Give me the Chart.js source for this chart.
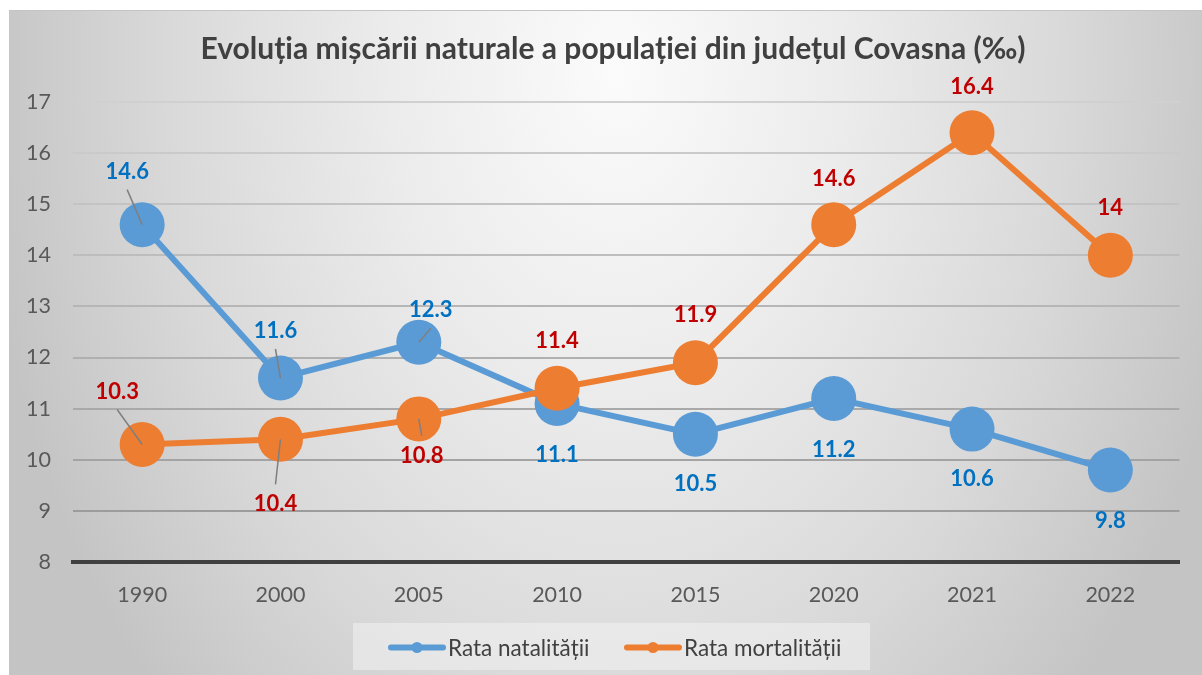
<!DOCTYPE html>
<html>
<head>
<meta charset="utf-8">
<script src="https://cdn.jsdelivr.net/npm/chart.js@4.4.1/dist/chart.umd.min.js"></script>
<style>
  html, body { margin: 0; padding: 0; background: #fff; }
  #wrap {
    position: absolute; left: 9px; top: 10px; width: 1193px; height: 665px;
    border-top: 1px solid #c4c4c4; box-sizing: border-box;
    background: radial-gradient(640px 900px at 607px 60px, #fbfbfb 0%, #ececec 35%, #d9d9d9 70%, #c4c4c4 100%);
  }
  canvas { display: block; }
</style>
</head>
<body>
<div id="wrap"><canvas id="chart" width="1193" height="665"></canvas></div>
<script>
// Data
const years = ['1990', '2000', '2005', '2010', '2015', '2020', '2021', '2022'];
const natalitate = [14.6, 11.6, 12.3, 11.1, 10.5, 11.2, 10.6, 9.8];
const mortalitate = [10.3, 10.4, 10.8, 11.4, 11.9, 14.6, 16.4, 14];
const yMin = 8;
const yMax = 17;

const titleText = 'Evoluția mișcării naturale a populației din județul Covasna (‰)';
const seriesNames = ['Rata natalității', 'Rata mortalității'];

// label placement relative to point centre (px), plus whether a leader line is drawn
const natalLabelPos = [[-15, -53], [-5, -47], [12, -32], [0, 51], [0, 50], [0, 51], [0, 50], [0, 51]];
const natalLeader = [true, true, true, false, false, false, false, false];
const mortLabelPos = [[-25, -53], [-5, 65], [3, 37], [0, -47], [0, -48], [0, -46], [0, -46], [0, -47]];
const mortLeader = [true, true, true, false, false, false, false, false];

const BLUE = '#5b9bd5';
const ORANGE = '#ed7d31';
const FONT = 'Lato, "Open Sans", sans-serif';

function gridColor(ctx) {
  // gridlines look darker towards the bottom of the plot
  const v = ctx.tick ? ctx.tick.value : yMin;
  const t = (v - yMin) / (yMax - yMin);
  const c = Math.round(150 + t * 58);
  return `rgb(${c},${c},${c})`;
}

const labelsPlugin = {
  id: 'pointLabels',
  afterDatasetsDraw(chart) {
    const { ctx } = chart;
    const setups = [
      { ds: 0, pos: mortLabelPos, leader: mortLeader, values: mortalitate, color: '#c00000' },
      { ds: 1, pos: natalLabelPos, leader: natalLeader, values: natalitate, color: '#0070c0' },
    ];
    ctx.save();
    // leader lines
    ctx.strokeStyle = '#7f7f7f';
    ctx.lineWidth = 1.5;
    for (const s of setups) {
      const meta = chart.getDatasetMeta(s.ds);
      meta.data.forEach((pt, i) => {
        if (!s.leader[i]) return;
        const [dx, dy] = s.pos[i];
        const ex = pt.x + dx;
        const ey = pt.y + dy + (dy < 0 ? 18 : -20);
        ctx.beginPath();
        ctx.moveTo(pt.x, pt.y);
        ctx.lineTo(ex, ey);
        ctx.stroke();
      });
    }
    // text
    ctx.font = `bold 22px ${FONT}`;
    ctx.textAlign = 'center';
    ctx.textBaseline = 'middle';
    for (const s of setups) {
      const meta = chart.getDatasetMeta(s.ds);
      ctx.fillStyle = s.color;
      meta.data.forEach((pt, i) => {
        const [dx, dy] = s.pos[i];
        ctx.fillText(String(s.values[i]), pt.x + dx, pt.y + dy);
      });
    }
    ctx.restore();
  },
  afterDraw(chart) {
    const { ctx } = chart;
    ctx.save();
    // title
    ctx.font = `bold 30px ${FONT}`;
    ctx.fillStyle = '#404040';
    ctx.textAlign = 'center';
    ctx.textBaseline = 'middle';
    ctx.fillText(titleText, 604, 38);

    // legend box
    ctx.fillStyle = 'rgba(243,243,243,0.55)';
    ctx.fillRect(344, 612, 517, 47);
    const items = [
      { x: 379, color: BLUE, text: seriesNames[0] },
      { x: 615, color: ORANGE, text: seriesNames[1] },
    ];
    ctx.font = `22.5px ${FONT}`;
    ctx.textAlign = 'left';
    for (const it of items) {
      ctx.strokeStyle = it.color;
      ctx.lineWidth = 6;
      ctx.lineCap = 'round';
      ctx.beginPath();
      ctx.moveTo(it.x + 3, 636.5);
      ctx.lineTo(it.x + 55, 636.5);
      ctx.stroke();
      ctx.fillStyle = it.color;
      ctx.beginPath();
      ctx.arc(it.x + 29, 636.5, 5.5, 0, Math.PI * 2);
      ctx.fill();
      ctx.fillStyle = '#404040';
      ctx.fillText(it.text, it.x + 60, 638);
    }
    ctx.restore();
  },
};

new Chart(document.getElementById('chart'), {
  type: 'line',
  data: {
    labels: years,
    datasets: [
      {
        label: seriesNames[1],
        data: mortalitate,
        borderColor: ORANGE,
        backgroundColor: ORANGE,
        borderWidth: 6,
        pointRadius: 22.5,
        pointHoverRadius: 22.5,
        pointBorderWidth: 0,
        pointBackgroundColor: ORANGE,
        tension: 0,
        order: 1,
      },
      {
        label: seriesNames[0],
        data: natalitate,
        borderColor: BLUE,
        backgroundColor: BLUE,
        borderWidth: 6,
        pointRadius: 22.5,
        pointHoverRadius: 22.5,
        pointBorderWidth: 0,
        pointBackgroundColor: BLUE,
        tension: 0,
        order: 2,
      },
    ],
  },
  options: {
    responsive: false,
    animation: false,
    clip: false,
    layout: { padding: { top: 91, right: 17, left: 0, bottom: 0 } },
    plugins: {
      legend: { display: false },
      title: { display: false },
      tooltip: { enabled: false },
    },
    scales: {
      x: {
        offset: true,
        grid: { display: false, drawTicks: false, offset: true },
        border: { display: true, color: '#404040', width: 4 },
        ticks: { color: '#595959', font: { family: FONT, size: 21.5 }, padding: 20, maxRotation: 0 },
        afterFit(scale) { scale.height = 114; },
      },
      y: {
        min: yMin,
        max: yMax,
        grid: { color: gridColor, lineWidth: 2, drawTicks: false },
        border: { display: false },
        ticks: { stepSize: 1, color: '#595959', font: { family: FONT, size: 21.5 }, padding: 22 },
        afterFit(scale) { scale.width = 64; },
      },
    },
  },
  plugins: [labelsPlugin],
});
</script>
</body>
</html>
